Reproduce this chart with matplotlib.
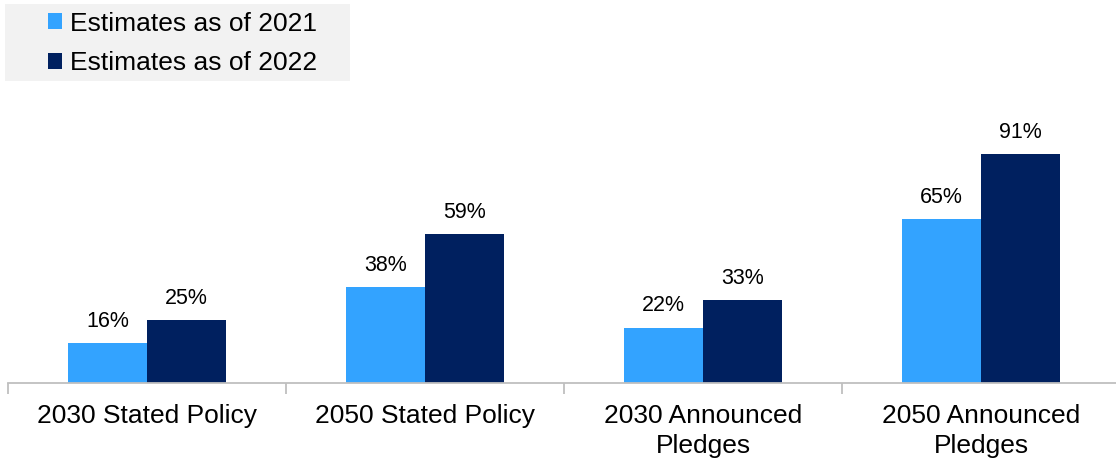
import numpy as np
import matplotlib.pyplot as plt
from matplotlib.patches import Patch, Rectangle

plt.rcParams["font.family"] = ["Liberation Sans", "DejaVu Sans"]

categories = ["2030 Stated Policy", "2050 Stated Policy",
              "2030 Announced\nPledges", "2050 Announced\nPledges"]
est_2021 = [16, 38, 22, 65]
est_2022 = [25, 59, 33, 91]
series_names = ["Estimates as of 2021", "Estimates as of 2022"]

LIGHT = "#33A3FF"
DARK = "#00205F"

fig = plt.figure(figsize=(11.16, 4.61), dpi=100)
ax = fig.add_axes([8 / 1116, 78 / 461, 1112 / 1116, 252 / 461])

x = np.arange(len(categories))
w = 0.285
b1 = ax.bar(x - w / 2, est_2021, w, color=LIGHT)
b2 = ax.bar(x + w / 2, est_2022, w, color=DARK)

for bars, vals in ((b1, est_2021), (b2, est_2022)):
    for rect, v in zip(bars, vals):
        ax.annotate(f"{v}%", (rect.get_x() + rect.get_width() / 2, v),
                    xytext=(0, 8), textcoords="offset points",
                    ha="center", va="bottom", fontsize=15.5)

ax.set_xlim(-0.5, len(categories) - 0.5)
ax.set_ylim(0, 100)
ax.set_yticks([])
for s in ("top", "right", "left"):
    ax.spines[s].set_visible(False)
ax.spines["bottom"].set_color("#BFBFBF")
ax.spines["bottom"].set_linewidth(1.3)

ax.set_xticks(x)
ax.set_xticklabels(categories, fontsize=19, linespacing=1.3)
ax.tick_params(axis="x", which="major", length=0, pad=15)
ax.set_xticks(np.arange(len(categories) + 1) - 0.5, minor=True)
ax.tick_params(axis="x", which="minor", length=8, color="#BFBFBF", width=1.3)

# legend panel in the upper-left corner
fig.patches.append(Rectangle((5 / 1116, 1 - 81 / 461), 345 / 1116, 77 / 461,
                             transform=fig.transFigure, facecolor="#F2F2F2",
                             edgecolor="none", zorder=0))
handles = [Patch(facecolor=LIGHT), Patch(facecolor=DARK)]
fig.legend(handles, series_names, loc="upper left",
           bbox_to_anchor=(37 / 1116, 1 - 1 / 461), frameon=False,
           fontsize=19, handlelength=0.55, handleheight=0.55,
           handletextpad=0.3, labelspacing=0.6, borderaxespad=0)

fig.savefig("out.png", dpi=100)
